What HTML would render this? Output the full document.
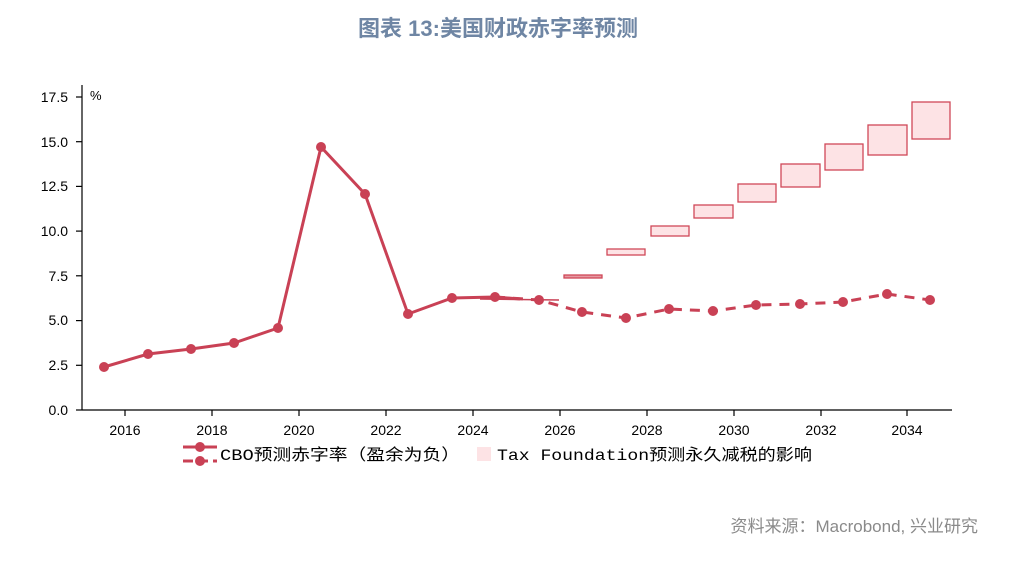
<!DOCTYPE html>
<html><head><meta charset="utf-8"><style>
body{margin:0;background:#fff;width:1020px;height:557px;overflow:hidden}
text{font-family:"Liberation Sans","Noto Sans CJK SC",sans-serif}
</style></head><body>
<svg width="1020" height="557" viewBox="0 0 1020 557" xmlns="http://www.w3.org/2000/svg">
<text x="498" y="36" text-anchor="middle" font-size="22" fill="#6f86a4" font-weight="bold">图表  13:美国财政赤字率预测</text>
<g stroke="#000" stroke-width="1.2">
<line x1="82" y1="85" x2="82" y2="410"/>
<line x1="82" y1="410" x2="952" y2="410"/>
<line x1="76" y1="410" x2="82" y2="410"/><line x1="76" y1="365.3" x2="82" y2="365.3"/><line x1="76" y1="320.6" x2="82" y2="320.6"/><line x1="76" y1="275.8" x2="82" y2="275.8"/><line x1="76" y1="231.1" x2="82" y2="231.1"/><line x1="76" y1="186.4" x2="82" y2="186.4"/><line x1="76" y1="141.7" x2="82" y2="141.7"/><line x1="76" y1="97" x2="82" y2="97"/>
<line x1="125" y1="410" x2="125" y2="416"/><line x1="212" y1="410" x2="212" y2="416"/><line x1="299" y1="410" x2="299" y2="416"/><line x1="386" y1="410" x2="386" y2="416"/><line x1="473" y1="410" x2="473" y2="416"/><line x1="560" y1="410" x2="560" y2="416"/><line x1="647" y1="410" x2="647" y2="416"/><line x1="734" y1="410" x2="734" y2="416"/><line x1="821" y1="410" x2="821" y2="416"/><line x1="907" y1="410" x2="907" y2="416"/>
</g>
<g font-size="14" fill="#000" text-anchor="end">
<text x="68" y="415">0.0</text><text x="68" y="370">2.5</text><text x="68" y="325">5.0</text><text x="68" y="281">7.5</text><text x="68" y="236">10.0</text><text x="68" y="191">12.5</text><text x="68" y="147">15.0</text><text x="68" y="102">17.5</text>
</g>
<text x="90" y="100" font-size="13" fill="#000">%</text>
<g font-size="14" fill="#000" text-anchor="middle">
<text x="125" y="435">2016</text><text x="212" y="435">2018</text><text x="299" y="435">2020</text><text x="386" y="435">2022</text><text x="473" y="435">2024</text><text x="560" y="435">2026</text><text x="647" y="435">2028</text><text x="734" y="435">2030</text><text x="821" y="435">2032</text><text x="907" y="435">2034</text>
</g>
<g fill="#fde3e5" stroke="#d04858" stroke-width="1.3">
<rect x="564" y="275" width="38" height="3" fill="#e59aa2"/>
<rect x="607" y="249" width="38" height="6"/>
<rect x="651" y="226" width="38" height="10"/>
<rect x="694" y="205" width="39" height="13"/>
<rect x="738" y="184" width="38" height="18"/>
<rect x="781" y="164" width="39" height="23"/>
<rect x="825" y="144" width="38" height="26"/>
<rect x="868" y="125" width="39" height="30"/>
<rect x="912" y="102" width="38" height="37"/>
</g>
<line x1="480" y1="299" x2="559" y2="300" stroke="#c94155" stroke-width="1.5"/>
<polyline fill="none" stroke="#c94155" stroke-width="3" points="104,367 148,354 191,349 234,343 278,328 321,147 365,194 408,314 452,298 495,297 520,299"/>
<polyline fill="none" stroke="#c94155" stroke-width="3" stroke-dasharray="10,8" points="495,297 539,300 582,312 626,318 669,309 713,311 756,305 800,304 843,302 887,294 930,300"/>
<g fill="#c94155">
<circle cx="104" cy="367" r="5"/><circle cx="148" cy="354" r="5"/><circle cx="191" cy="349" r="5"/><circle cx="234" cy="343" r="5"/><circle cx="278" cy="328" r="5"/><circle cx="321" cy="147" r="5"/><circle cx="365" cy="194" r="5"/><circle cx="408" cy="314" r="5"/><circle cx="452" cy="298" r="5"/><circle cx="495" cy="297" r="5"/>
<circle cx="539" cy="300" r="5"/><circle cx="582" cy="312" r="5"/><circle cx="626" cy="318" r="5"/><circle cx="669" cy="309" r="5"/><circle cx="713" cy="311" r="5"/><circle cx="756" cy="305" r="5"/><circle cx="800" cy="304" r="5"/><circle cx="843" cy="302" r="5"/><circle cx="887" cy="294" r="5"/><circle cx="930" cy="300" r="5"/>
</g>
<line x1="183" y1="447" x2="217" y2="447" stroke="#c94155" stroke-width="3"/><circle cx="200" cy="447" r="5" fill="#c94155"/>
<line x1="183" y1="461" x2="217" y2="461" stroke="#c94155" stroke-width="3" stroke-dasharray="10,5"/><circle cx="200" cy="461" r="5" fill="#c94155"/>
<text x="220" y="460" font-size="16" fill="#000" textLength="240" lengthAdjust="spacingAndGlyphs" style="font-family:'Liberation Mono','Noto Sans CJK SC',monospace">CBO预测赤字率（盈余为负）</text>
<rect x="477" y="447" width="14" height="14" fill="#fde3e5"/>
<text x="497" y="460" font-size="16" fill="#000" textLength="315" lengthAdjust="spacingAndGlyphs" style="font-family:'Liberation Mono','Noto Sans CJK SC',monospace">Tax Foundation预测永久减税的影响</text>
<text x="978" y="532" text-anchor="end" font-size="17" fill="#8a8a8a">资料来源：Macrobond, 兴业研究</text>
</svg>
</body></html>
